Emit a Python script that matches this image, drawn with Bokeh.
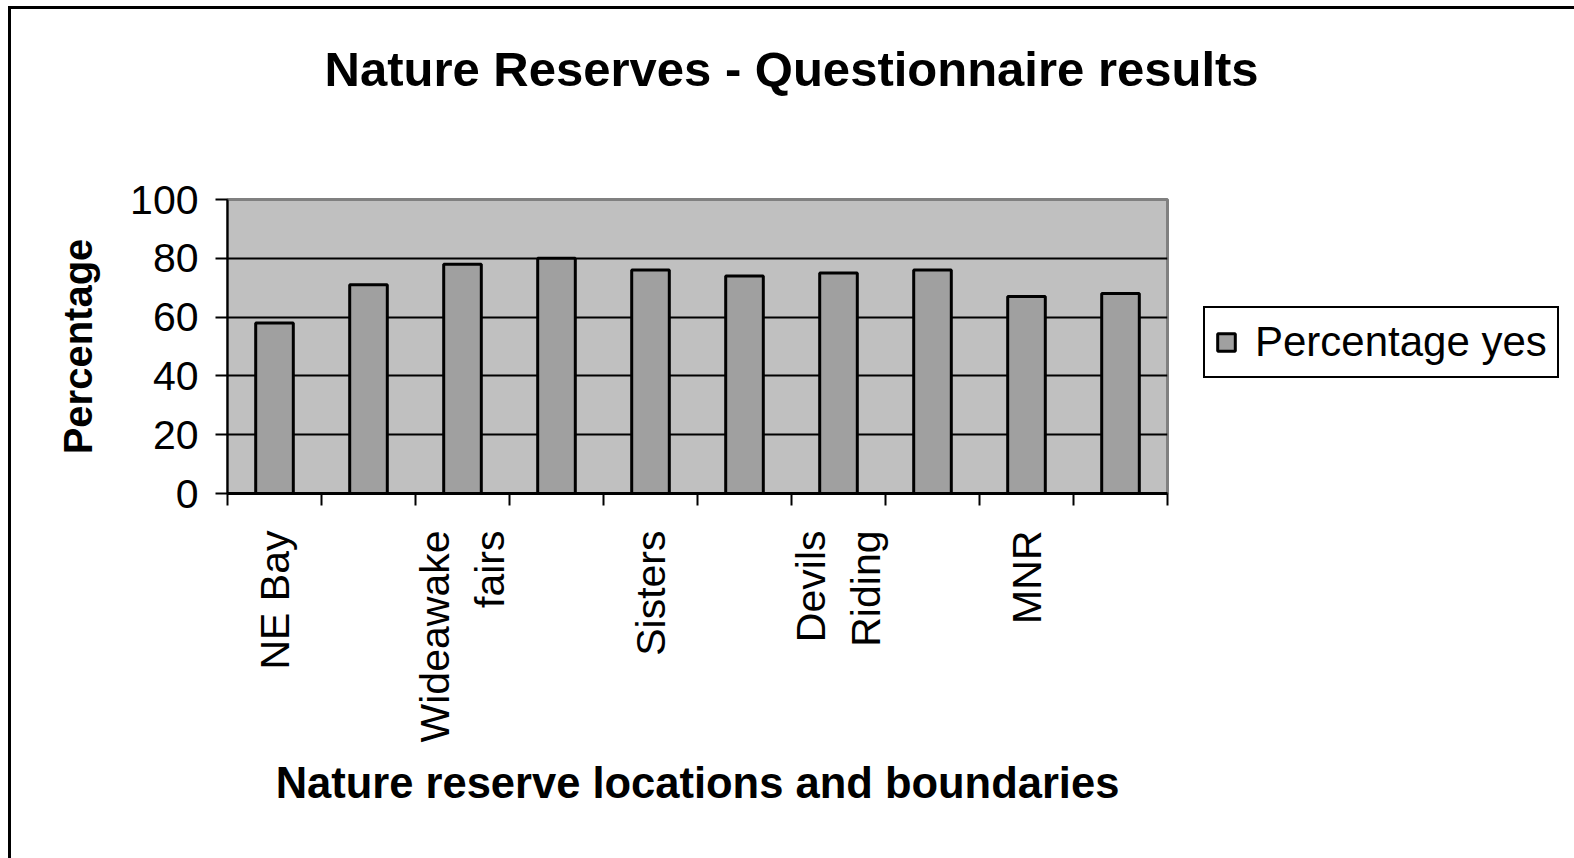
import math
from bokeh.plotting import figure
from bokeh.models import (Range1d, FixedTicker, Legend, LegendItem, Title, LinearAxis)
from bokeh.embed import file_html
from bokeh.resources import INLINE

# ---- data ----
# Excel skipped every second category label; the hidden names are not shown in the reference.
locations = ["NE Bay", "", "Wideawake\nfairs", "", "Sisters", "", "Devils\nRiding", "", "MNR", ""]
pct_yes = [58, 71, 78, 80, 76, 74, 75, 76, 67, 68]
y_ticks = [0, 20, 40, 60, 80, 100]
series_name = "Percentage yes"
title_text = "Nature Reserves - Questionnaire results"
x_title = "Nature reserve locations and boundaries"
y_title = "Percentage"

FONT = "Liberation Sans"

xs = list(range(1, len(pct_yes) + 1))
label_pos = [x for x, n in zip(xs, locations) if n]
bounds = [x - 0.5 for x in xs] + [xs[-1] + 0.5]

p = figure(frame_width=940, frame_height=294, output_backend="svg", toolbar_location=None,
           x_range=Range1d(0.5, len(pct_yes) + 0.5), y_range=Range1d(0, 100),
           min_border_left=216, min_border_right=404, min_border_top=190,
           min_border_bottom=365)
p.styles = {"border-top": "3px solid black", "border-left": "3px solid black",
            "border-right": "3px solid black", "margin-left": "8px", "margin-top": "6px"}

p.background_fill_color = "#C0C0C0"
p.border_fill_color = "white"
p.outline_line_color = "#808080"
p.outline_line_width = 3

r = p.vbar(x=xs, top=pct_yes, width=0.4, fill_color="#A0A0A0",
           line_color="black", line_width=3)

xa = p.below[0]
ya = p.left[0]

# spacer between plot area and title (an invisible axis with one blank tick)
spacer = LinearAxis(ticker=FixedTicker(ticks=[xs[0]]), axis_line_color=None,
                    major_tick_out=99, major_tick_in=0, minor_tick_out=0, minor_tick_in=0,
                    major_tick_line_color=None, minor_tick_line_color=None,
                    major_label_overrides={xs[0]: ""}, major_label_standoff=0)
p.add_layout(spacer, "above")

main_title = Title(text=title_text, text_font=FONT, text_font_style="bold",
                   text_font_size="49px", text_color="black", align="left", offset=97,
                   standoff=10)
p.add_layout(main_title, "above")

# x axis
xa.ticker = FixedTicker(ticks=label_pos, minor_ticks=bounds)
xa.major_label_overrides = {x: n for x, n in zip(xs, locations) if n}
xa.major_label_orientation = math.pi / 2
xa.major_label_text_font = FONT
xa.major_label_text_font_size = "41px"
xa.major_label_text_color = "black"
xa.major_label_standoff = 25
xa.major_tick_out = 0
xa.major_tick_in = 0
xa.minor_tick_out = 12
xa.minor_tick_in = 0
xa.minor_tick_line_color = "black"
xa.minor_tick_line_width = 2
xa.axis_line_color = "black"
xa.axis_line_width = 3
xa.axis_label = x_title
xa.axis_label_text_font = FONT
xa.axis_label_text_font_style = "bold"
xa.axis_label_text_font_size = "43.5px"
xa.axis_label_text_color = "black"
xa.axis_label_standoff = 14

# y axis
ya.ticker = FixedTicker(ticks=y_ticks)
ya.major_label_text_font = FONT
ya.major_label_text_font_size = "41px"
ya.major_label_text_color = "black"
ya.major_label_standoff = 17
ya.major_tick_out = 12
ya.major_tick_in = 0
ya.major_tick_line_color = "black"
ya.major_tick_line_width = 2
ya.minor_tick_out = 0
ya.minor_tick_in = 0
ya.axis_line_color = "black"
ya.axis_line_width = 2
ya.axis_label = y_title
ya.axis_label_text_font = FONT
ya.axis_label_text_font_style = "bold"
ya.axis_label_text_font_size = "40px"
ya.axis_label_text_color = "black"
ya.axis_label_standoff = 27

p.xgrid.visible = False
p.ygrid.ticker = FixedTicker(ticks=y_ticks[1:-1])
p.ygrid.grid_line_color = "black"
p.ygrid.grid_line_width = 2

legend = Legend(items=[LegendItem(label=series_name, renderers=[r])],
                location=(36, 115), border_line_color="black", border_line_width=2,
                border_line_alpha=1,
                background_fill_color="white", background_fill_alpha=1,
                label_text_font=FONT, label_text_font_size="42px",
                label_text_color="black", glyph_width=22, glyph_height=22,
                label_standoff=18, padding=10, margin=0, spacing=0)
p.add_layout(legend, "right")

open("out.html", "w").write(file_html(p, INLINE))
